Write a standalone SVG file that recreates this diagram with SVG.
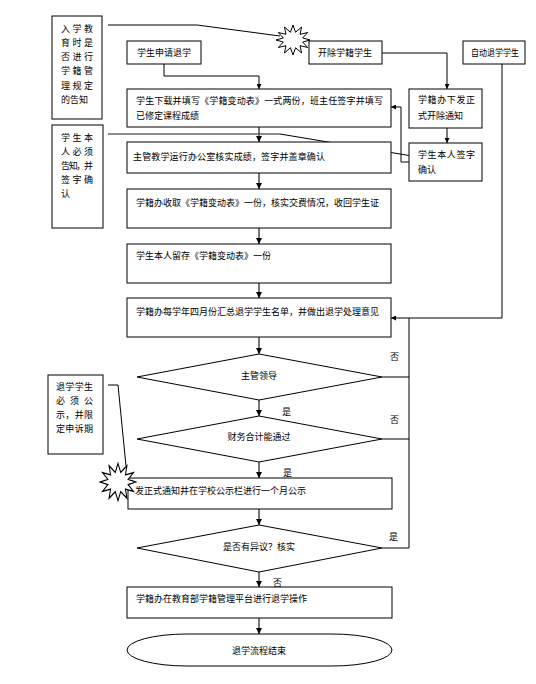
<svg xmlns="http://www.w3.org/2000/svg" width="536" height="684" viewBox="0 0 536 684">
<style>
  .box{fill:#fff;stroke:#000;stroke-width:1}
  .t{font-family:"Noto Sans CJK SC","Liberation Sans",sans-serif;font-size:9px;fill:#000}
  .c{text-anchor:middle}
  .ln{fill:none;stroke:#000;stroke-width:1}
  .gl{fill:none;stroke:#666;stroke-width:1.5}
  .fl{fill:none;stroke:#555;stroke-width:1.6}
  .burst{fill:#fff;stroke:#000;stroke-width:1}
</style>
<defs>
  <marker id="ah" viewBox="0 0 10 10" refX="10" refY="5" markerWidth="5" markerHeight="5" orient="auto" markerUnits="userSpaceOnUse">
    <path d="M0,0 L10,5 L0,10 z" fill="#000"/>
  </marker>
  <marker id="ah2" viewBox="0 0 10 10" refX="10" refY="5" markerWidth="6" markerHeight="6" orient="auto" markerUnits="userSpaceOnUse">
    <path d="M0,0 L10,5 L0,10 z" fill="#000"/>
  </marker>
  <polygon id="burstShape" points="17,0 9.66,2.07 14.72,7.5 7.07,5.66 8.5,12.99 2.59,7.73 0,15 -2.59,7.73 -8.5,12.99 -7.07,5.66 -14.72,7.5 -9.66,2.07 -17,0 -9.66,-2.07 -14.72,-7.5 -7.07,-5.66 -8.5,-12.99 -2.59,-7.73 0,-15 2.59,-7.73 8.5,-12.99 7.07,-5.66 14.72,-7.5 9.66,-2.07"/>
</defs>
<rect width="536" height="684" fill="#fff"/>

<g id="connectors">
  <polyline class="ln" points="108,25 197,25 280,36"/>
  <line class="gl" x1="108" y1="134" x2="280" y2="134"/>
  <line class="ln" x1="280" y1="134" x2="418" y2="157" marker-end="url(#ah)"/>
  <polyline class="ln" points="108,385 118,385 126,466"/>
  <polyline class="ln" points="164,64 164,76 259,76 259,89" marker-end="url(#ah)"/>
  <polyline class="ln" points="382,53 447,53 447,89" marker-end="url(#ah)"/>
  <line class="ln" x1="447" y1="128" x2="447" y2="143" marker-end="url(#ah)"/>
  <polyline class="ln" points="409,162 401,162 401,107 391,107" marker-end="url(#ah)"/>
  <polyline class="ln" points="502,64 502,318 391,318" marker-end="url(#ah)"/>
  <polyline class="ln" points="382,548 409,548 409,318"/>
  <line class="ln" x1="382" y1="377" x2="409" y2="377"/>
  <line class="ln" x1="382" y1="439" x2="409" y2="439"/>
  <line class="fl" x1="259" y1="127" x2="259" y2="142" marker-end="url(#ah2)"/>
  <line class="fl" x1="259" y1="173" x2="259" y2="189" marker-end="url(#ah2)"/>
  <line class="fl" x1="259" y1="228" x2="259" y2="244" marker-end="url(#ah2)"/>
  <line class="fl" x1="259" y1="283" x2="259" y2="298" marker-end="url(#ah2)"/>
  <line class="fl" x1="259" y1="337" x2="259" y2="354" marker-end="url(#ah2)"/>
  <line class="fl" x1="259" y1="400" x2="259" y2="416" marker-end="url(#ah2)"/>
  <line class="fl" x1="259" y1="462" x2="259" y2="478" marker-end="url(#ah2)"/>
  <line class="fl" x1="259" y1="509" x2="259" y2="525" marker-end="url(#ah2)"/>
  <line class="fl" x1="259" y1="572" x2="259" y2="587" marker-end="url(#ah2)"/>
  <line class="fl" x1="259" y1="618" x2="259" y2="634" marker-end="url(#ah2)"/>
  <text class="t" x="390" y="360">否</text>
  <text class="t" x="282" y="415">是</text>
  <text class="t" x="390" y="423">否</text>
  <text class="t" x="283" y="476">是</text>
  <text class="t" x="389" y="540">是</text>
  <text class="t" x="273" y="586">否</text>
</g>

<g id="note1">
  <rect class="box" x="52" y="16" width="50" height="103"/>
  <text class="t" x="61" y="32" textLength="32" lengthAdjust="spacing">入学教</text>
  <text class="t" x="61" y="46" textLength="32" lengthAdjust="spacing">育时是</text>
  <text class="t" x="61" y="60" textLength="32" lengthAdjust="spacing">否进行</text>
  <text class="t" x="61" y="74" textLength="32" lengthAdjust="spacing">学籍管</text>
  <text class="t" x="61" y="89" textLength="32" lengthAdjust="spacing">理规定</text>
  <text class="t" x="61" y="103">的告知</text>
</g>

<g id="burst1"><use href="#burstShape" class="burst" transform="translate(293,40)"/></g>

<g id="apply">
  <rect class="box" x="127" y="41" width="74" height="23"/>
  <text class="t" x="137" y="56">学生申请退学</text>
</g>

<g id="expel">
  <rect class="box" x="309" y="41" width="73" height="23"/>
  <text class="t" x="318" y="56">开除学籍学生</text>
</g>

<g id="auto">
  <rect class="box" x="463" y="41" width="62" height="23"/>
  <text class="t" x="471" y="56" textLength="48" lengthAdjust="spacingAndGlyphs">自动退学学生</text>
</g>

<g id="box1">
  <rect class="box" x="127" y="89" width="264" height="38"/>
  <text class="t" x="136" y="104" textLength="247" lengthAdjust="spacing">学生下载并填写《学籍变动表》一式两份，班主任签字并填写</text>
  <text class="t" x="136" y="119">已修定课程成绩</text>
</g>

<g id="notice">
  <rect class="box" x="409" y="89" width="73" height="39"/>
  <text class="t" x="418" y="103" textLength="57" lengthAdjust="spacing">学籍办下发正</text>
  <text class="t" x="418" y="119">式开除通知</text>
</g>

<g id="sign">
  <rect class="box" x="409" y="143" width="73" height="38"/>
  <text class="t" x="418" y="158" textLength="57" lengthAdjust="spacing">学生本人签字</text>
  <text class="t" x="418" y="173">确认</text>
</g>

<g id="note2">
  <rect class="box" x="52" y="125" width="51" height="103"/>
  <text class="t" x="61" y="141" textLength="32" lengthAdjust="spacing">学生本</text>
  <text class="t" x="61" y="155" textLength="32" lengthAdjust="spacing">人必须</text>
  <text class="t" x="61" y="169" textLength="32" lengthAdjust="spacing">告知，并</text>
  <text class="t" x="61" y="183" textLength="32" lengthAdjust="spacing">签字确</text>
  <text class="t" x="61" y="197">认</text>
</g>

<g id="box2">
  <rect class="box" x="127" y="142" width="264" height="31"/>
  <text class="t" x="133" y="160" textLength="192" lengthAdjust="spacing">主管教学运行办公室核实成绩，签字并盖章确认</text>
</g>

<g id="box3">
  <rect class="box" x="127" y="189" width="264" height="39"/>
  <text class="t" x="136" y="206">学籍办收取《学籍变动表》一份，核实交费情况，收回学生证</text>
</g>

<g id="box4">
  <rect class="box" x="127" y="244" width="264" height="39"/>
  <text class="t" x="136" y="259">学生本人留存《学籍变动表》一份</text>
</g>

<g id="box5">
  <rect class="box" x="127" y="298" width="264" height="39"/>
  <text class="t" x="136" y="315">学籍办每学年四月份汇总退学学生名单，并做出退学处理意见</text>
</g>

<g id="dec1">
  <polygon class="box" points="259,354 382,377 259,400 137,377"/>
  <text class="t c" x="259" y="379">主管领导</text>
</g>

<g id="dec2">
  <polygon class="box" points="259,416 382,439 259,462 137,439"/>
  <text class="t c" x="259" y="440">财务合计能通过</text>
</g>

<g id="note3">
  <rect class="box" x="48" y="375" width="55" height="79"/>
  <text class="t" x="56" y="390" textLength="37" lengthAdjust="spacing">退学学生</text>
  <text class="t" x="56" y="404" textLength="37" lengthAdjust="spacing">必须公</text>
  <text class="t" x="56" y="418" textLength="37" lengthAdjust="spacing">示，并限</text>
  <text class="t" x="56" y="432" textLength="37" lengthAdjust="spacing">定申诉期</text>
</g>

<g id="box6">
  <rect class="box" x="128" y="478" width="264" height="31"/>
  <text class="t" x="135" y="494">发正式通知并在学校公示栏进行一个月公示</text>
</g>

<g id="burst2"><use href="#burstShape" class="burst" transform="translate(118,482) scale(1.05,1.25)"/></g>

<g id="dec3">
  <polygon class="box" points="259,525 382,548 259,572 137,548"/>
  <text class="t c" x="259" y="550">是否有异议？核实</text>
</g>

<g id="box7">
  <rect class="box" x="127" y="587" width="265" height="31"/>
  <text class="t" x="136" y="602">学籍办在教育部学籍管理平台进行退学操作</text>
</g>

<g id="end">
  <rect class="box" x="127" y="634" width="265" height="32" rx="60" ry="16"/>
  <text class="t c" x="259" y="654">退学流程结束</text>
</g>
</svg>
